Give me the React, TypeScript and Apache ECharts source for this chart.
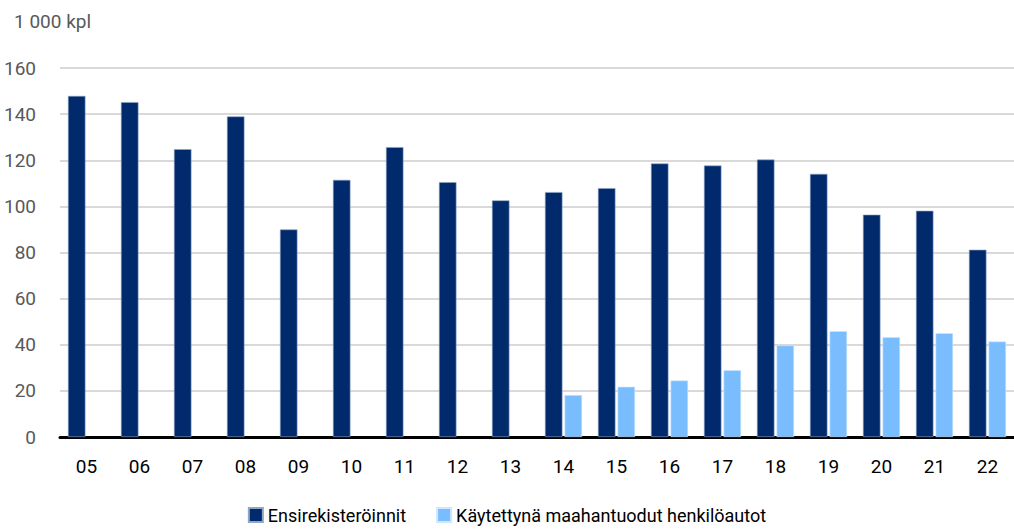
import React, { useEffect, useRef } from "react";
import * as echarts from "echarts";

const years = ["05","06","07","08","09","10","11","12","13","14","15","16","17","18","19","20","21","22"];
const firstRegistrations = [147.9,145.2,124.8,139.0,90.0,111.5,125.7,110.5,102.6,106.2,107.9,118.6,117.7,120.3,114.1,96.4,98.1,81.2];
const usedImports = [null,null,null,null,null,null,null,null,null,18.2,21.8,24.5,29.0,39.7,45.9,43.3,45.0,41.4];
const seriesNames = ["Ensirekisteröinnit", "Käytettynä maahantuodut henkilöautot"];
const yTicks = { min: 0, max: 160, interval: 20 };
const unitLabel = "1 000 kpl";

const FONT = "Roboto, 'DejaVu Sans Condensed', sans-serif";

export default function App() {
  const ref = useRef<HTMLDivElement>(null);
  useEffect(() => {
    if (!ref.current) return;
    const chart = echarts.init(ref.current, null, { renderer: "svg" });
    chart.setOption({
      animation: false,
      backgroundColor: "#ffffff",
      textStyle: { fontFamily: FONT },
      title: {
        text: unitLabel,
        left: 9,
        top: 7,
        textStyle: { fontFamily: FONT, fontSize: 19, fontWeight: "normal", color: "#595959" },
      },
      legend: {
        bottom: 2,
        left: "center",
        itemWidth: 14,
        itemHeight: 14,
        itemGap: 30,
        icon: "rect",
        textStyle: { fontFamily: FONT, fontSize: 18, color: "#000000" },
        data: seriesNames,
      },
      grid: { left: 60, right: 0, top: 68, bottom: 94, containLabel: false },
      xAxis: {
        type: "category",
        data: years,
        axisLine: { lineStyle: { color: "#000000", width: 3 } },
        axisTick: { show: false },
        axisLabel: { color: "#000000", fontSize: 19, fontFamily: FONT, margin: 20 },
      },
      yAxis: {
        type: "value",
        min: yTicks.min,
        max: yTicks.max,
        interval: yTicks.interval,
        axisLine: { show: false },
        axisTick: { show: false },
        axisLabel: { color: "#595959", fontSize: 19, fontFamily: FONT, margin: 24 },
        splitLine: { lineStyle: { color: "#D9D9D9", width: 2 } },
      },
      series: [
        {
          name: seriesNames[0],
          type: "bar",
          data: firstRegistrations,
          barGap: "12%",
          barCategoryGap: "30%",
          itemStyle: { color: "#002A6C", borderColor: "#8FA6C8", borderWidth: 0.6 },
        },
        {
          name: seriesNames[1],
          type: "bar",
          data: usedImports,
          itemStyle: { color: "#79BDFF", borderColor: "#CFE6FF", borderWidth: 0.6 },
        },
      ],
    });
    return () => chart.dispose();
  }, []);
  return (
    <div
      ref={ref}
      style={{ position: "fixed", left: 0, top: 0, width: 1014, height: 531 }}
    />
  );
}
